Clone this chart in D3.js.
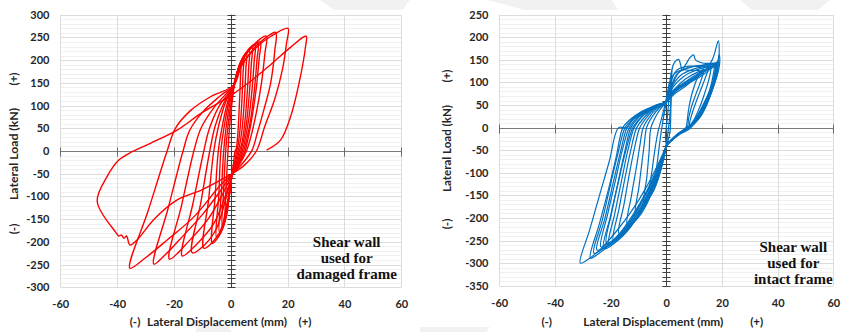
<!DOCTYPE html>
<html lang="en">
<head>
<meta charset="utf-8">
<title>Shear wall hysteresis loops</title>
<script src="https://cdn.jsdelivr.net/npm/d3@7"></script>
<style>
  body { margin: 0; background: #fff; }
  svg { display: block; }
  .tick text { font-family: Lato, "Open Sans", sans-serif; font-weight: 700; font-size: 11px; fill: #262626; }
  .title { font-family: Lato, "Open Sans", sans-serif; font-weight: 700; font-size: 11.5px; fill: #262626; }
</style>
</head>
<body>
<script>

// axis values
var xTicks = [-60, -40, -20, 0, 20, 40, 60];
var damagedYTicks = [-300, -250, -200, -150, -100, -50, 0, 50, 100, 150, 200, 250, 300];
var intactYTicks = [-350, -300, -250, -200, -150, -100, -50, 0, 50, 100, 150, 200, 250];

// notes inside the plots
var damagedNote = ["Shear wall", "used for", "damaged frame"];
var intactNote = ["Shear wall", "used for", "intact frame"];

// left chart: cycles, [displacement mm, load kN]
var damagedLoops = [
  [[0.2,-56],[-0.6,-100],[-1.3,-135],[-2,-150],[-1.6,-75],[-1,0],[-0.4,55],[0.5,110],[1,135],[2,165],[2.8,185],[3.5,195],[3.4,160],[3,100],[2.5,40],[1.9,5],[1.5,0],[0.9,-30],[0.2,-56]],
  [[0.2,-56],[-0.8,-110],[-1.8,-148],[-3,-165],[-2.5,-85],[-1.8,0],[-1,55],[0.2,110],[1,140],[2.2,172],[3.4,195],[4.5,205],[4.3,170],[3.9,110],[3.2,45],[2.4,8],[2,0],[1.2,-30],[0.2,-56]],
  [[0.3,-55],[-1,-120],[-2.3,-160],[-4,-178],[-3.3,-90],[-2.5,0],[-1.6,55],[-0.2,110],[1,145],[2.4,178],[4,203],[5.5,215],[5.3,180],[4.8,115],[4,50],[3,10],[2.5,0],[1.5,-30],[0.3,-55]],
  [[0.3,-54],[-1.2,-125],[-2.8,-170],[-5,-190],[-4.2,-95],[-3.5,0],[-2.3,55],[-0.6,110],[1,145],[2.6,180],[4.5,208],[6.5,222],[6.3,185],[5.7,120],[4.8,55],[3.7,12],[3,0],[1.8,-30],[0.3,-54]],
  [[0.4,-53],[-1.5,-130],[-3.5,-180],[-6.5,-203],[-5.5,-100],[-4.4,0],[-3,55],[-1,110],[1.1,145],[2.8,183],[5,213],[7.5,230],[7.2,190],[6.5,125],[5.5,60],[4.2,15],[3.5,0],[2,-30],[0.4,-53]],
  [[0.4,-53],[-1.5,-120],[-4,-180],[-9.5,-214],[-7.8,-107],[-6,0],[-4.3,55],[-1.8,108],[1.1,145],[3,185],[5.5,217],[8.5,235],[8.2,195],[7.4,130],[6.2,65],[4.8,18],[4,0],[2.2,-30],[0.4,-53]],
  [[0.5,-52],[-2,-110],[-5,-170],[-9,-205],[-13.6,-224],[-10.5,-112],[-7.4,0],[-5.5,55],[-2.5,105],[1.2,145],[3.2,188],[6,220],[9.5,237],[9.2,200],[8.3,135],[7,70],[5.4,20],[4.5,0],[2.5,-30],[0.5,-52]],
  [[0.5,-52],[-2,-100],[-6,-160],[-12,-205],[-17.1,-231],[-13.3,-115],[-9.5,0],[-7.5,50],[-4,100],[1.2,145],[3.3,190],[6.5,222],[10.4,240],[10,205],[9,140],[7.5,75],[6,25],[5,0],[2.8,-30],[0.5,-52]],
  [[0.5,-50],[-2.5,-90],[-8,-150],[-15,-200],[-21.6,-238],[-17.3,-119],[-13,0],[-10.5,50],[-6,95],[-1,130],[1.2,145],[3.5,190],[7.5,230],[12.5,253],[12,215],[10.8,150],[9,85],[7,30],[5.5,0],[3,-30],[0.5,-50]],
  [[0.5,-50],[-3,-82],[-10,-140],[-18,-195],[-23,-228],[-27.1,-249],[-22,-125],[-16.8,0],[-14.5,45],[-10,85],[-4,120],[1,145],[3.5,185],[8,225],[12,248],[15.8,261],[15.5,222],[14,149],[11.6,90],[9.3,39],[7.5,2],[4,-28],[0.5,-50]],
  [[0.5,-50],[-3.6,-75],[-13,-145],[-22.4,-196],[-30,-235],[-35.5,-258],[-29,-130],[-22.4,0],[-19.5,50],[-14,90],[-7,120],[1,145],[4,190],[9,228],[14,252],[20.1,270],[19.6,237],[18.2,180],[15.5,115],[12,55],[9,0],[5,-30],[0.5,-50]],
  [[0.5,-50],[-10,-85],[-19,-108],[-27,-150],[-33,-196],[-35.5,-207],[-36.7,-187],[-37.6,-192],[-38.5,-185],[-39.4,-187],[-40.6,-178],[-47,-111],[-43.5,-56],[-39.4,-20],[-34.7,-1.5],[-28.3,17],[-18.9,46],[-10,85],[0,122],[6,149],[14,190],[21,228],[26.5,253],[26.3,230],[24,149],[21,75],[17.5,24],[12.6,2]]
];

// right chart: cycles, [displacement mm, load kN]
var intactLoops = [
  [[0,-40],[-1.8,-90],[-4,-130],[-6,-145],[-5,-90],[-4,-45],[-3,-10],[-1.5,25],[-0.5,50],[0.5,80],[1.2,100],[1,70],[0.5,30],[0,0],[-0.3,-20],[0,-40]],
  [[0,-40],[-1,-70],[-2.5,-100],[-4,-120],[-3.2,-75],[-2.4,-35],[-1.6,0],[-0.8,30],[0,57],[0.8,85],[1.5,110],[2,128],[1.9,95],[1.6,55],[1.2,20],[0.6,-10],[0,-40]],
  [[0,-40],[1,-20],[1.4,-5],[1.7,60],[2,128],[3,145],[4.4,151],[5.2,138],[5.6,128],[7,140],[8.5,155],[9.8,161],[10.5,150],[13,143],[17,140],[17.8,118],[16.3,85],[14,50],[11.5,22],[8.6,2],[5,-12],[2,-27],[0,-40]],
  [[0,-40],[-2.5,-105],[-5,-145],[-8,-165],[-7,-110],[-6.2,-55],[-5.5,0],[-3.5,28],[-1.5,46],[0,55],[1.5,100],[3,120],[6,128],[9,126],[12,125],[10.5,100],[9,70],[8,40],[7.5,15],[7,0],[4,-14],[1.8,-27],[0.2,-38],[0,-40]],
  [[0,-40],[-3,-110],[-6.5,-160],[-9,-182],[-11,-190],[-9.8,-130],[-8.7,-75],[-7.8,-30],[-7.1,0],[-5,25],[-2.5,44],[-0.5,54],[0,56],[3,75],[7,92],[10,108],[13.5,130],[12.5,105],[10.5,72],[9,45],[8,20],[7.5,0],[4.5,-13],[2,-26],[0.3,-38],[0,-40]],
  [[0,-40],[-3.2,-110],[-7.5,-175],[-11,-205],[-14,-215],[-12.5,-150],[-10.8,-90],[-9.5,-40],[-8.3,0],[-6,24],[-3.5,42],[-1,53],[0,56],[2,108],[4,128],[8,136],[12,135],[15,133],[14,110],[12,78],[10,45],[8.5,15],[8,1],[5,-11],[2.2,-25],[0.4,-37],[0,-40]],
  [[0,-40],[-3.2,-105],[-8,-175],[-12.5,-215],[-17,-235],[-15.2,-170],[-13.2,-100],[-11.4,-45],[-9.5,0],[-7,23],[-4.5,40],[-1.5,52],[0,56],[3,82],[7,100],[11,115],[14,128],[16,136],[15.5,112],[14,80],[12,45],[10,18],[8.2,2],[5.5,-9],[2.5,-24],[0.5,-36],[0,-40]],
  [[0,-40],[-2,-85],[-6,-150],[-10.5,-200],[-15,-235],[-19,-250],[-17,-180],[-14.8,-110],[-12.7,-48],[-10.6,0],[-8,22],[-5,40],[-2,51],[0,56],[2.5,100],[5,125],[9,135],[13,138],[17,138],[16.8,115],[15.5,82],[13,48],[10.5,20],[8.5,3],[6,-7],[2.8,-22],[0.6,-35],[0,-40]],
  [[0,-40],[-1.5,-71],[-5.7,-138],[-10.5,-197],[-16.5,-241],[-20.7,-260],[-18.5,-190],[-16,-115],[-13.8,-50],[-11.5,0],[-9,22],[-6,38],[-2.5,50],[0,56],[3,78],[7,95],[11,108],[15,125],[17.5,140],[17.3,118],[16,85],[13.5,50],[11,22],[8.8,4],[6.5,-5],[3,-20],[0.8,-34],[0,-40]],
  [[0,-40],[-2,-82],[-6.2,-142],[-11,-196],[-16,-236],[-19,-250],[-21.5,-256],[-19.5,-185],[-17,-115],[-14.5,-50],[-12,0],[-9.5,20],[-6.5,36],[-3,48],[0,56],[2,90],[5,115],[10,130],[14,136],[17.6,141],[17.2,112],[15.5,78],[13,42],[10.5,14],[8.5,-2],[5,-14],[1.5,-31],[0,-40]],
  [[0,-40],[-2,-85],[-6.5,-150],[-11.5,-207],[-16.5,-245],[-22.5,-268],[-20,-195],[-17.3,-120],[-15,-55],[-12.7,0],[-10,22],[-6.5,38],[-3,50],[0,57],[2,95],[4,120],[8,132],[13,138],[18,142],[17.8,120],[16.5,90],[14,55],[11.5,25],[9,5],[7,-3],[3.5,-18],[1,-33],[0,-40]],
  [[0,-40],[-2.3,-80],[-7,-143],[-12,-200],[-17,-240],[-21,-258],[-23.5,-264],[-21,-190],[-18.2,-115],[-15.8,-50],[-13.3,0],[-10.8,20],[-7,37],[-3.2,50],[0,57],[3,85],[7,108],[12,125],[16,133],[18,141],[17.6,118],[16.2,88],[14,55],[11.2,24],[8.8,3],[6,-8],[2.6,-24],[0,-40]],
  [[0,-40],[-2,-80],[-6.5,-145],[-11.5,-200],[-16.5,-240],[-21,-262],[-24.9,-271],[-22,-200],[-19,-120],[-16.5,-55],[-14.1,0],[-11.5,20],[-7.5,37],[-3.5,50],[0,58],[2.5,90],[6,112],[11,128],[15,135],[18.3,143],[18.2,125],[17,95],[15,60],[12.5,28],[9.5,6],[7.5,0],[4,-17],[1.2,-32],[0,-40]],
  [[0,-40],[-2.4,-78],[-7,-140],[-12,-193],[-17,-236],[-21.5,-262],[-26,-278],[-23,-205],[-20,-125],[-17.4,-58],[-14.8,0],[-12.3,18],[-8.5,35],[-4,48],[0,58],[2.5,82],[7,102],[12,122],[16,134],[18.5,146],[18.4,124],[17.2,96],[15.2,62],[12.8,30],[9.8,7],[7.8,-1],[4.2,-16],[1.3,-32],[0,-40]],
  [[0,-40],[-2.2,-78],[-6.5,-138],[-11.5,-192],[-16.5,-235],[-21,-263],[-24.5,-280],[-27.3,-289],[-24,-212],[-20.5,-130],[-18,-65],[-15.6,0],[-13,18],[-9,35],[-4.5,48],[0,58],[3,80],[8,100],[13,120],[16.5,150],[18.7,192],[19,165],[18.6,140],[17.5,110],[16,80],[13,40],[10,12],[8,0],[4.5,-15],[1.5,-30],[0,-40]],
  [[0,-40],[-2.5,-75],[-7,-130],[-12.5,-185],[-18,-230],[-23,-265],[-27,-287],[-30.9,-300],[-27.5,-226],[-24,-150],[-20.5,-75],[-17.1,0],[-14.1,0],[-12,20],[-8,38],[-4.6,46],[-0.4,57],[1,75],[5,90],[10,110],[15,128],[18,138],[19,161],[19.2,145],[18.5,120],[17,91],[14.5,50],[12.2,24],[8.6,2],[5,-12],[2,-27],[0,-40]]
];

var w = 841;
var h = 332;

var svg = d3.select("body")
  .append("svg")
  .attr("width", w)
  .attr("height", h);

// faint background shapes behind the charts
var shapes = [
  [[320,0],[410,0],[402,10],[334,10]],
  [[487,0],[612,0],[618,10],[525,10]],
  [[740,0],[830,0],[818,10],[752,10]],
  [[420,327],[490,327],[486,332],[420,332]],
  [[198,326],[228,326],[232,332],[195,332]]
];
svg.selectAll("polygon.bg")
  .data(shapes)
  .join("polygon")
  .attr("class", "bg")
  .attr("points", function(d) { return d.join(" "); })
  .attr("fill", "#f1f1f1");

function crisp(v) { return Math.round(v) + 0.5; }

function drawPanel(p) {
  var g = svg.append("g");
  var x = d3.scaleLinear([-60, 60], [p.left, p.right]);
  var y = d3.scaleLinear([p.yTicks[0], p.yTicks[p.yTicks.length - 1]], [p.bottom, p.top]);

  // minor horizontal grid every 10
  var minor = d3.range(p.yTicks[0], p.yTicks[p.yTicks.length - 1], 10).filter(function(v) { return v % 50 !== 0; });
  g.selectAll("line.minor")
    .data(minor)
    .join("line")
    .attr("x1", x(-60)).attr("x2", x(60))
    .attr("y1", function(d) { return crisp(y(d)); })
    .attr("y2", function(d) { return crisp(y(d)); })
    .attr("stroke", "#f0f0f0");

  g.selectAll("line.hgrid")
    .data(p.yTicks)
    .join("line")
    .attr("x1", x(-60)).attr("x2", x(60))
    .attr("y1", function(d) { return crisp(y(d)); })
    .attr("y2", function(d) { return crisp(y(d)); })
    .attr("stroke", "#dcdcdc");

  g.selectAll("line.vgrid")
    .data(xTicks)
    .join("line")
    .attr("y1", y.range()[0]).attr("y2", y.range()[1])
    .attr("x1", function(d) { return crisp(x(d)); })
    .attr("x2", function(d) { return crisp(x(d)); })
    .attr("stroke", "#dcdcdc");

  // zero lines with crossing ticks
  var x0 = crisp(x(0)), y0 = crisp(y(0));
  g.append("line")
    .attr("x1", x(-60)).attr("x2", x(60))
    .attr("y1", y0).attr("y2", y0)
    .attr("stroke", "#7a7a7a");
  g.selectAll("line.xt")
    .data(xTicks)
    .join("line")
    .attr("x1", function(d) { return crisp(x(d)); })
    .attr("x2", function(d) { return crisp(x(d)); })
    .attr("y1", y0 - 4).attr("y2", y0 + 5)
    .attr("stroke", "#6a6a6a");

  g.append("line")
    .attr("x1", x0).attr("x2", x0)
    .attr("y1", y.range()[0]).attr("y2", y.range()[1])
    .attr("stroke", "#404040");
  g.selectAll("line.yt")
    .data(d3.range(p.yTicks[0], p.yTicks[p.yTicks.length - 1] + 1, 10))
    .join("line")
    .attr("x1", x0 - 4).attr("x2", x0 + 4)
    .attr("y1", function(d) { return crisp(y(d)); })
    .attr("y2", function(d) { return crisp(y(d)); })
    .attr("stroke", "#404040");

  // hysteresis loops
  var clipId = "clip" + p.name;
  svg.append("clipPath").attr("id", clipId)
    .append("rect")
    .attr("x", p.left).attr("y", p.top)
    .attr("width", p.right - p.left).attr("height", p.bottom - p.top);

  var line = d3.line()
    .x(function(d) { return x(d[0]); })
    .y(function(d) { return y(d[1]); })
    .curve(d3.curveCatmullRom.alpha(0.5));

  g.append("g")
    .attr("clip-path", "url(#" + clipId + ")")
    .selectAll("path")
    .data(p.loops)
    .join("path")
    .attr("d", line)
    .attr("fill", "none")
    .attr("stroke", p.color)
    .attr("stroke-width", p.stroke)
    .attr("stroke-linejoin", "round");

  // tick labels
  g.append("g")
    .attr("transform", "translate(" + p.labelRight + ",0)")
    .call(d3.axisLeft(y).tickValues(p.yTicks).tickSize(0).tickPadding(0).tickFormat(function(d) { return String(d); }))
    .call(function(a) { a.select(".domain").remove(); });

  g.append("g")
    .attr("transform", "translate(0," + p.labelTop + ")")
    .call(d3.axisBottom(x).tickValues(xTicks).tickSize(0).tickPadding(0).tickFormat(function(d) { return String(d); }))
    .call(function(a) { a.select(".domain").remove(); });

  // axis titles
  g.append("text").attr("class", "title")
    .attr("x", p.xMinus).attr("y", 326).attr("text-anchor", "middle").text("(-)");
  g.append("text").attr("class", "title")
    .attr("x", p.xTitle[0]).attr("y", 326)
    .attr("textLength", p.xTitle[1] - p.xTitle[0]).attr("lengthAdjust", "spacingAndGlyphs")
    .text("Lateral Displacement (mm)");
  g.append("text").attr("class", "title")
    .attr("x", p.xPlus).attr("y", 326).attr("text-anchor", "middle").text("(+)");

  g.append("text").attr("class", "title")
    .attr("transform", "translate(" + (p.yTitleX + 4) + "," + p.yTitle[1] + ") rotate(-90)")
    .attr("textLength", p.yTitle[1] - p.yTitle[0]).attr("lengthAdjust", "spacingAndGlyphs")
    .text(p.yTitleText);
  g.append("text").attr("class", "title")
    .attr("transform", "translate(" + (p.yTitleX + 4) + "," + p.yPlus + ") rotate(-90)")
    .attr("text-anchor", "middle").text("(+)");
  g.append("text").attr("class", "title")
    .attr("transform", "translate(" + (p.yTitleX + 4) + "," + p.yMinus + ") rotate(-90)")
    .attr("text-anchor", "middle").text("(-)");

  // note, serif bold
  g.selectAll("text.note")
    .data(p.note)
    .join("text")
    .attr("class", "note")
    .attr("x", p.noteX)
    .attr("y", function(d, i) { return p.noteY + i * 16; })
    .attr("text-anchor", "middle")
    .style("font-family", "'Liberation Serif'")
    .style("font-weight", 700)
    .style("font-size", "15px")
    .style("fill", "#111")
    .text(function(d) { return d; });
}

drawPanel({
  name: "damaged", left: 60.3, right: 401.3, top: 14.7, bottom: 287.3,
  yTicks: damagedYTicks, loops: damagedLoops, color: "#ff0000", stroke: 1.4,
  labelRight: 49.5, labelTop: 300,
  xMinus: 135, xTitle: [147, 287], xPlus: 305,
  yTitleX: 13.5, yTitle: [108, 200], yTitleText: "Lateral Load  (kN)", yPlus: 79, yMinus: 229,
  note: damagedNote, noteX: 346.7, noteY: 247
});

drawPanel({
  name: "intact", left: 499.3, right: 833.3, top: 14.7, bottom: 285.7,
  yTicks: intactYTicks, loops: intactLoops, color: "#0070c0", stroke: 1.2,
  labelRight: 488.5, labelTop: 299,
  xMinus: 546.7, xTitle: [583.3, 723.3], xPlus: 756.7,
  yTitleX: 446.7, yTitle: [105, 192], yTitleText: "Lateral Load (kN)", yPlus: 76, yMinus: 224,
  note: intactNote, noteX: 793.3, noteY: 252
});

</script>
</body>
</html>
